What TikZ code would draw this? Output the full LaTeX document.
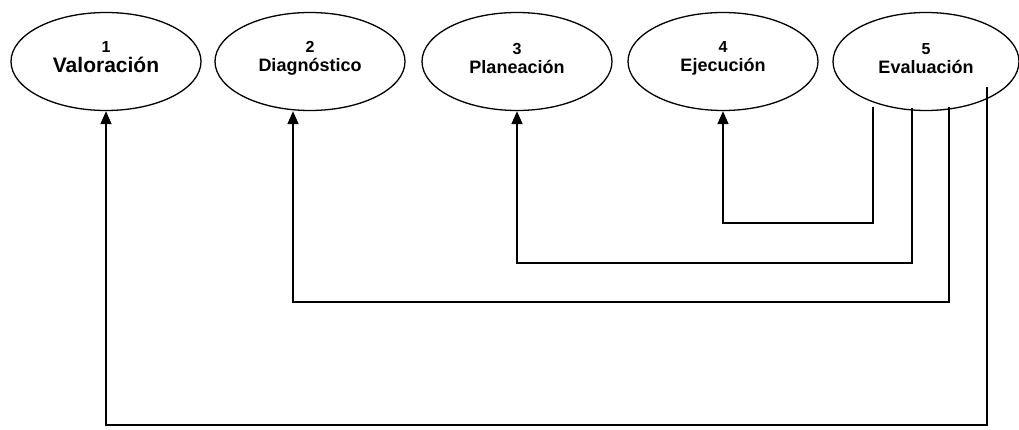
\documentclass[tikz,border=0pt]{standalone}
\usepackage{fontspec}
\setmainfont{Liberation Sans}
\usetikzlibrary{shapes.geometric,arrows.meta,calc}
\tikzset{
  phase/.style={draw=black, line width=1.3pt, ellipse, minimum width=190pt, minimum height=98pt, inner sep=0pt},
  phaselabel/.style={align=center, font=\bfseries\fontsize{18}{19}\selectfont, inner sep=0pt},
  feedback/.style={draw=black, line width=1.5pt, -{Triangle[length=13pt,width=11pt]}}
}
\newcommand{\phasenum}[1]{{\fontsize{16}{18}\selectfont #1}}
\begin{document}
\begin{tikzpicture}[x=1pt,y=-1pt]
  \useasboundingbox (0,0) rectangle (1019,430);
  % the five phases
  \node[phase] (e1) at (106,61.5) {};
  \node[phase] (e2) at (310,61.5) {};
  \node[phase] (e3) at (517,61.5) {};
  \node[phase] (e4) at (723,61.5) {};
  \node[phase, minimum width=186pt] (e5) at (926,61.5) {};
  \node[phaselabel, font=\bfseries\fontsize{21}{20}\selectfont] (t1) at ($(e1.center)+(0,-4)$) {\phasenum{1}\\Valoración};
  \node[phaselabel] (t2) at ($(e2.center)+(0,-3)$) {\phasenum{2}\\Diagnóstico};
  \node[phaselabel] (t3) at ($(e3.center)+(0,-3)$) {\phasenum{3}\\Planeación};
  \node[phaselabel] (t4) at ($(e4.center)+(0,-3)$) {\phasenum{4}\\Ejecución};
  \node[phaselabel] (t5) at ($(e5.center)+(0,-3)$) {\phasenum{5}\\Evaluación};
  % feedback lines leaving the evaluation phase
  \coordinate (s4) at (873,107);
  \coordinate (s3) at (912,108);
  \coordinate (s2) at (949,107);
  \coordinate (s1) at (987,87);
  \draw[feedback] (s4) |- (723,223) -- (e4.south);
  \draw[feedback] (s3) |- (517,263) -- (e3.south);
  \draw[feedback] (s2) |- (293,302) -- ($(e2.south)+(-17,0)$);
  \draw[feedback] (s1) |- (106,425) -- (e1.south);
\end{tikzpicture}
\end{document}
